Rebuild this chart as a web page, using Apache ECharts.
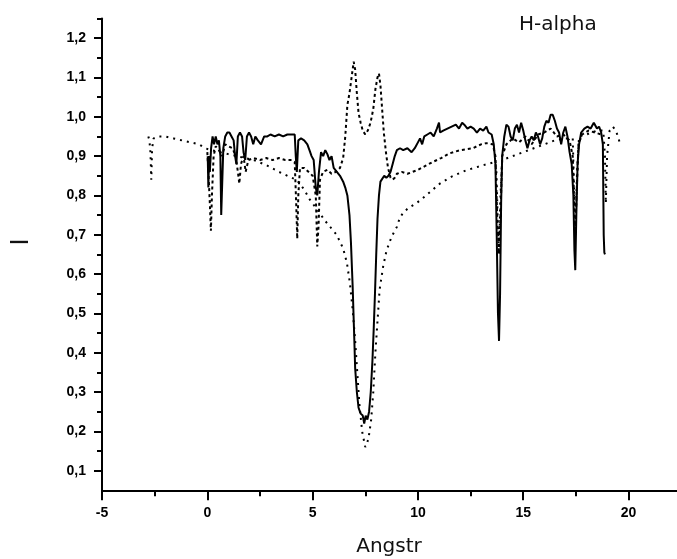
<!DOCTYPE html>
<html>
<head>
<meta charset="utf-8">
<script src="https://cdn.jsdelivr.net/npm/echarts@6/dist/echarts.min.js"></script>
<style>html,body{margin:0;padding:0;background:#fff}#c{width:677px;height:559px}</style>
</head>
<body>
<div id="c"></div>
<script>
// ---- data ----
var titleText = 'H-alpha';
var xName = 'Angstr';
var yName = 'I';

var xMajorTicks = [-5, 0, 5, 10, 15, 20];
var xMinorTicks = [-2.5, 2.5, 7.5, 12.5, 17.5];
var yMajorTicks = [0.1, 0.2, 0.3, 0.4, 0.5, 0.6, 0.7, 0.8, 0.9, 1.0, 1.1, 1.2];
var yMinorTicks = [0.15, 0.25, 0.35, 0.45, 0.55, 0.65, 0.75, 0.85, 0.95, 1.05, 1.15, 1.25];

// solid spectrum
var solidX = [0.02,0.05,0.08,0.12,0.18,0.25,0.32,0.40,0.48,0.55,0.62,0.66,0.72,0.76,0.85,0.95,1.05,1.15,1.25,1.32,1.38,1.45,1.55,1.65,1.72,1.80,1.88,1.98,2.08,2.18,2.28,2.40,2.55,2.70,2.85,3.00,3.20,3.40,3.60,3.80,4.00,4.15,4.20,4.25,4.32,4.45,4.60,4.75,4.85,4.95,5.05,5.15,5.22,5.30,5.40,5.50,5.60,5.70,5.80,5.90,6.00,6.15,6.30,6.45,6.55,6.65,6.75,6.82,6.90,6.97,7.02,7.10,7.18,7.28,7.38,7.45,7.52,7.60,7.68,7.76,7.84,7.90,7.96,8.02,8.08,8.15,8.22,8.30,8.40,8.50,8.60,8.70,8.80,8.90,9.00,9.15,9.30,9.50,9.70,9.85,10.00,10.10,10.20,10.30,10.45,10.60,10.75,10.90,11.00,11.05,11.20,11.40,11.60,11.80,11.95,12.10,12.20,12.35,12.50,12.65,12.80,12.95,13.10,13.25,13.35,13.50,13.60,13.68,13.74,13.80,13.85,13.90,13.95,14.00,14.10,14.20,14.30,14.40,14.50,14.60,14.70,14.80,14.90,15.00,15.10,15.20,15.30,15.40,15.50,15.60,15.70,15.80,15.90,16.00,16.10,16.20,16.30,16.40,16.50,16.60,16.70,16.80,16.90,17.00,17.10,17.20,17.30,17.38,17.43,17.47,17.52,17.58,17.65,17.75,17.90,18.05,18.20,18.35,18.50,18.60,18.70,18.78,18.82,18.85,18.88];
var solidY = [0.90,0.82,0.90,0.86,0.92,0.95,0.93,0.95,0.93,0.94,0.90,0.75,0.75,0.92,0.95,0.96,0.96,0.95,0.94,0.90,0.88,0.95,0.96,0.95,0.91,0.89,0.95,0.96,0.95,0.93,0.95,0.94,0.93,0.95,0.95,0.955,0.95,0.955,0.95,0.955,0.955,0.955,0.90,0.86,0.94,0.945,0.94,0.93,0.915,0.90,0.89,0.82,0.80,0.86,0.91,0.90,0.915,0.905,0.89,0.90,0.87,0.86,0.85,0.835,0.82,0.80,0.75,0.68,0.57,0.45,0.36,0.30,0.26,0.245,0.24,0.22,0.24,0.23,0.25,0.30,0.38,0.46,0.55,0.65,0.74,0.80,0.835,0.84,0.85,0.845,0.85,0.86,0.88,0.90,0.915,0.92,0.915,0.92,0.91,0.92,0.935,0.945,0.93,0.95,0.955,0.96,0.95,0.97,0.985,0.96,0.965,0.97,0.975,0.98,0.97,0.985,0.98,0.97,0.975,0.97,0.96,0.97,0.965,0.975,0.96,0.955,0.93,0.88,0.70,0.50,0.43,0.55,0.78,0.90,0.95,0.98,0.975,0.95,0.94,0.97,0.98,0.96,0.985,0.965,0.94,0.92,0.94,0.95,0.94,0.96,0.95,0.93,0.945,0.975,0.99,0.985,1.005,1.005,0.99,0.97,0.96,0.93,0.96,0.975,0.95,0.91,0.88,0.80,0.66,0.61,0.75,0.88,0.93,0.96,0.97,0.975,0.97,0.985,0.97,0.975,0.96,0.93,0.70,0.655,0.65];

// broad dotted profile
var broadX = [-2.80,-2.75,-2.70,-2.66,-2.62,-2.55,-2.30,-2.00,-1.60,-1.20,-0.80,-0.40,-0.10,0.20,0.60,1.00,1.40,1.80,2.20,2.80,3.40,4.00,4.24,4.60,4.86,5.20,5.60,6.14,6.45,6.63,6.77,6.90,7.02,7.12,7.22,7.35,7.50,7.65,7.78,7.88,7.98,8.08,8.18,8.35,8.51,8.75,9.00,9.12,9.30,9.60,9.92,10.23,10.60,11.04,11.60,12.30,12.80,13.30,13.65,13.72,13.78,13.85,13.92,14.00,14.50,15.00,15.50,16.00,16.50,17.00,17.35,17.42,17.47,17.55,17.65,18.00,18.50,18.80,18.88,18.92,18.98,19.10,19.25,19.40,19.55,19.62];
var broadY = [0.95,0.94,0.91,0.84,0.92,0.945,0.95,0.95,0.945,0.94,0.935,0.93,0.92,0.915,0.91,0.905,0.90,0.895,0.89,0.877,0.86,0.845,0.84,0.815,0.79,0.765,0.735,0.70,0.665,0.628,0.577,0.51,0.43,0.35,0.27,0.20,0.16,0.18,0.23,0.30,0.40,0.48,0.56,0.62,0.66,0.695,0.72,0.74,0.757,0.77,0.78,0.793,0.81,0.83,0.848,0.864,0.872,0.88,0.885,0.87,0.75,0.65,0.80,0.89,0.90,0.91,0.92,0.93,0.94,0.945,0.945,0.80,0.70,0.85,0.95,0.955,0.965,0.965,0.90,0.78,0.90,0.965,0.975,0.965,0.94,0.925];

// dashed emission profile
var emisX = [0.00,0.06,0.12,0.17,0.22,0.30,0.40,0.55,0.70,0.85,1.00,1.20,1.35,1.45,1.52,1.60,1.72,1.82,1.88,1.95,2.20,2.50,2.80,3.10,3.40,3.70,4.00,4.15,4.22,4.27,4.32,4.40,4.60,4.80,5.00,5.15,5.22,5.28,5.35,5.50,5.70,5.90,6.10,6.30,6.45,6.55,6.65,6.75,6.85,6.95,7.02,7.10,7.18,7.28,7.38,7.50,7.62,7.75,7.88,7.98,8.08,8.15,8.22,8.30,8.38,8.48,8.58,8.70,8.80,8.90,9.00,9.23,9.50,9.75,10.00,10.35,10.70,11.10,11.50,12.00,12.60,13.00,13.25,13.55,13.68,13.76,13.85,13.92,14.00,14.20,14.50,14.80,15.10,15.40,15.70,16.00,16.30,16.60,16.90,17.20,17.35,17.42,17.47,17.53,17.62,17.80,18.10,18.40,18.70];
var emisY = [0.91,0.85,0.78,0.71,0.80,0.90,0.925,0.915,0.90,0.93,0.925,0.92,0.90,0.86,0.83,0.88,0.90,0.86,0.855,0.89,0.895,0.89,0.895,0.89,0.895,0.89,0.89,0.885,0.78,0.69,0.80,0.87,0.87,0.86,0.85,0.80,0.67,0.72,0.84,0.86,0.865,0.855,0.86,0.87,0.895,0.95,1.03,1.06,1.10,1.14,1.12,1.06,1.01,0.985,0.965,0.955,0.965,0.985,1.02,1.07,1.10,1.11,1.08,1.02,0.96,0.91,0.87,0.845,0.84,0.845,0.855,0.86,0.855,0.86,0.865,0.875,0.885,0.895,0.907,0.915,0.92,0.93,0.933,0.93,0.90,0.75,0.65,0.75,0.90,0.93,0.945,0.935,0.95,0.93,0.955,0.96,0.97,0.95,0.955,0.94,0.90,0.78,0.70,0.80,0.93,0.955,0.965,0.96,0.955];

function pairs(xs, ys) { return xs.map(function (x, i) { return [x, ys[i]]; }); }

var chart = echarts.init(document.getElementById('c'), null, { renderer: 'canvas' });
var axisFont = { color: '#000', fontFamily: 'Liberation Sans, Arial, sans-serif', fontWeight: 'bold', fontSize: 14 };
var lineSty = { color: '#000', width: 2 };

chart.setOption({
  animation: false,
  backgroundColor: '#fff',
  grid: { left: 102, top: 18.5, width: 575, height: 471.8, containLabel: false },
  xAxis: [{
    type: 'value', min: -5, max: 22.3, position: 'bottom',
    axisLine: { show: true, onZero: false, lineStyle: lineSty },
    axisTick: { show: true, inside: false, length: 10, lineStyle: lineSty, customValues: xMajorTicks },
    axisLabel: Object.assign({ margin: 16, customValues: xMajorTicks, formatter: function (v) { return String(v); } }, axisFont),
    splitLine: { show: false }
  }, {
    type: 'value', min: -5, max: 22.3, position: 'bottom', gridIndex: 0,
    axisLine: { show: false, onZero: false },
    axisTick: { show: true, inside: false, length: 6, lineStyle: lineSty, customValues: xMinorTicks },
    axisLabel: { show: false },
    splitLine: { show: false }
  }],
  yAxis: [{
    type: 'value', min: 0.05, max: 1.25, position: 'left',
    axisLine: { show: true, onZero: false, lineStyle: lineSty },
    axisTick: { show: true, inside: false, length: 8, lineStyle: lineSty, customValues: yMajorTicks },
    axisLabel: Object.assign({ margin: 16, customValues: yMajorTicks, formatter: function (v) { return v.toFixed(1).replace('.', ','); } }, axisFont),
    splitLine: { show: false }
  }, {
    type: 'value', min: 0.05, max: 1.25, position: 'left',
    axisLine: { show: false, onZero: false },
    axisTick: { show: true, inside: false, length: 5, lineStyle: lineSty, customValues: yMinorTicks },
    axisLabel: { show: false },
    splitLine: { show: false }
  }],
  graphic: [
    { type: 'text', left: 519, top: 15, style: { text: titleText, fill: '#111', font: '20px "DejaVu Sans", sans-serif' } },
    { type: 'text', x: 389, y: 547, style: { text: xName, fill: '#111', font: '20px "DejaVu Sans", sans-serif', align: 'center', verticalAlign: 'middle' } },
    { type: 'text', x: 22, y: 242, rotation: Math.PI / 2, style: { text: yName, fill: '#111', font: '24px "DejaVu Sans", sans-serif', align: 'center', verticalAlign: 'middle' } }
  ],
  series: [
    { name: 'broad', type: 'line', xAxisIndex: 0, yAxisIndex: 0, showSymbol: false, data: pairs(broadX, broadY),
      lineStyle: { color: '#000', width: 2, type: [2, 5] }, z: 2 },
    { name: 'emission', type: 'line', xAxisIndex: 0, yAxisIndex: 0, showSymbol: false, data: pairs(emisX, emisY),
      lineStyle: { color: '#000', width: 2, type: [3, 3] }, z: 3 },
    { name: 'solid', type: 'line', xAxisIndex: 0, yAxisIndex: 0, showSymbol: false, data: pairs(solidX, solidY),
      lineStyle: { color: '#000', width: 2, type: 'solid' }, z: 4 }
  ]
});
</script>
</body>
</html>
